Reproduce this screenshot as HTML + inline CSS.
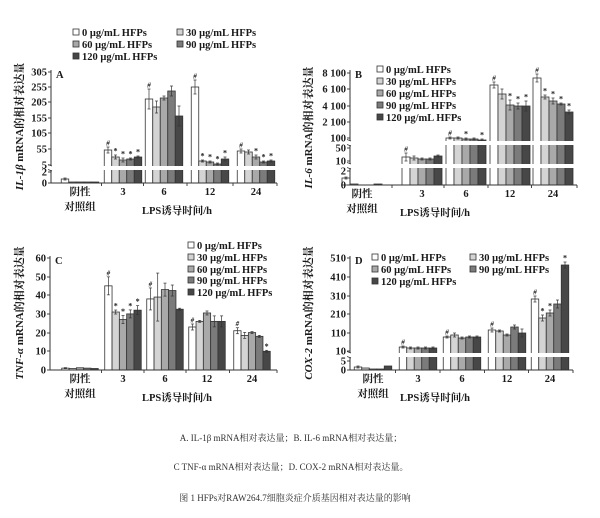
<!DOCTYPE html>
<html><head><meta charset="utf-8"><style>
html,body{margin:0;padding:0;background:#fff;}
svg text{font-family:"Liberation Serif","Noto Serif CJK SC",serif;fill:#1a1a1a;}
svg text.p{font-weight:bold;}
.cap{font-family:"Liberation Serif","Noto Serif CJK SC",serif;font-size:9px;fill:#333;}
</style></head><body>
<svg id="s" width="600" height="513" xmlns="http://www.w3.org/2000/svg">
<text class="cap" x="291" y="441" text-anchor="middle">A. IL-1β mRNA相对表达量；B. IL-6 mRNA相对表达量；</text>
<text class="cap" x="291" y="470" text-anchor="middle">C TNF-α mRNA相对表达量；D. COX-2 mRNA相对表达量。</text>
<text class="cap" x="295" y="501" text-anchor="middle">图 1 HFPs对RAW264.7细胞炎症介质基因相对表达量的影响</text>
</svg>
<script>
var S=document.getElementById('s'),NS='http://www.w3.org/2000/svg';
function el(t,a,txt){var e=document.createElementNS(NS,t);for(var k in a)e.setAttribute(k,a[k]);if(t=='text')e.setAttribute('class','p');if(txt!==undefined)e.textContent=txt;S.appendChild(e);return e;}
var C=['#fff','#d4d4d4','#a9a9a9','#7b7b7b','#474747'];
var L=['0 μg/mL HFPs','30 μg/mL HFPs','60 μg/mL HFPs','90 μg/mL HFPs','120 μg/mL HFPs'];
function panel(o){
  var w=o.w;
  for(var g=0;g<5;g++){for(var i=0;i<5;i++){
    var x=o.cx[g]-2.5*w+i*w,t=o.tops[g][i],e=(o.errs&&o.errs[g])?o.errs[g][i]:1.5;
    el('rect',{x:x,y:t,width:w,height:o.base-t,fill:C[i],stroke:'#333','stroke-width':0.8});
    if(g>0||i==0){var mx=x+w/2;el('line',{x1:mx,y1:t-e,x2:mx,y2:t+e,stroke:'#333','stroke-width':0.7});
    el('line',{x1:mx-1.5,y1:t-e,x2:mx+1.5,y2:t-e,stroke:'#333','stroke-width':0.7});
    el('line',{x1:mx-1.5,y1:t+e,x2:mx+1.5,y2:t+e,stroke:'#333','stroke-width':0.7});}
    var m=o.marks[g]?o.marks[g][i]:'';
    if(m&&m!=' '){el('text',{x:x+w/2,y:t-e-1.5,'font-size':m=='#'?7:8,'text-anchor':'middle','font-style':m=='#'?'italic':'normal'},m);}
  }}
  o.breaks.forEach(function(b){el('rect',{x:o.ax-4,y:b-2,width:o.xend-o.ax+6,height:4,fill:'#fff'});});
  el('line',{x1:o.ax,y1:o.top,x2:o.ax,y2:o.base,stroke:'#333','stroke-width':1});
  el('line',{x1:o.ax,y1:o.base,x2:o.xend,y2:o.base,stroke:'#333','stroke-width':1});
  o.breaks.forEach(function(b){el('rect',{x:o.ax-4,y:b-2,width:o.xend-o.ax+6,height:4,fill:'#fff'});
    el('path',{d:'M'+(o.ax-3)+' '+(b-3.5)+' l4 1.5 M'+(o.ax-3)+' '+(b+1.5)+' l4 1.5',stroke:'#333','stroke-width':0.7,fill:'none'});});
  o.ticks.forEach(function(t){el('line',{x1:o.ax-3,y1:t[1],x2:o.ax,y2:t[1],stroke:'#333','stroke-width':0.9});
    el('text',{x:o.ax-4,y:t[1]+3.5,'font-size':10.5,'text-anchor':'end'},t[0]);});
  for(var g=1;g<5;g++){var bx=(o.cx[g]+o.cx[g-1])/2;el('line',{x1:bx,y1:o.base,x2:bx,y2:o.base+3,stroke:'#333','stroke-width':0.9});}
  el('line',{x1:o.xend,y1:o.base,x2:o.xend,y2:o.base+3,stroke:'#333','stroke-width':0.9});
  var lab=['阴性','3','6','12','24'];
  for(var g=0;g<5;g++)el('text',{x:o.cx[g],y:o.base+12,'font-size':10.5,'text-anchor':'middle'},lab[g]);
  el('text',{x:o.cx[0],y:o.base+27,'font-size':10.5,'text-anchor':'middle'},'对照组');
  el('text',{x:o.lx,y:o.base+31,'font-size':10.5,'text-anchor':'middle'},'LPS诱导时间/h');
  el('text',{x:o.ax+5,y:o.top+8,'font-size':10.5},o.letter);
  var yc=(o.top+o.base)/2,tx=el('text',{x:0,y:0,'font-size':11,'text-anchor':'middle',transform:'translate('+o.ylx+','+yc+') rotate(-90)'});
  var a=document.createElementNS(NS,'tspan');a.setAttribute('font-style','italic');a.textContent=o.yi;tx.appendChild(a);
  var b=document.createElementNS(NS,'tspan');b.textContent=' mRNA的相对表达量';tx.appendChild(b);
  o.leg.forEach(function(p,i){el('rect',{x:p[0],y:p[1]-7,width:6,height:6,fill:C[i],stroke:'#333','stroke-width':0.8});
    el('text',{x:p[0]+9,y:p[1],'font-size':10.5},L[i]);});
}
function vy(base,sc,v){return base-v*sc;}
panel({ax:51,base:183,top:70,xend:277,w:7.5,cx:[80,123,164,210,256],
 tops:[[179,182,182,182,182],[150,157,160,159,157],[99,107,98,91,116],[87,161,162,164,159],[151,152,157,162,161]],
 errs:[[1,1,1,1,1],[3,2,2,1,1],[10,6,2,5,10],[7,1,1,1,2],[2,2,2,1,1]],
 marks:[[],['#','*','*','*','*'],['#','','','',''],['#','*','*','*','*'],['#','','*','*','*']],
 breaks:[168],ticks:[['305',72],['255',87],['205',102],['155',118],['105',133],['55',149],['5',165],['2',172],['0',183]],
 letter:'A',yi:'IL-1β',ylx:23,lx:177,leg:[[73,36],[177,36],[73,48],[177,48],[73,60]]});
panel({ax:350,base:185,top:70,xend:577,w:8,cx:[362,422,466,510,553],
 tops:[[178,184,185,185,184],[157,158,159,159,156],[138,138,139,139,140],[85,94,105,106,106],[78,97,101,104,112]],
 errs:[[1,1,1,1,1],[4,2,1,1,1],[1,1,1,1,1],[3,5,5,3,5],[4,2,3,1,2]],
 marks:[[],['#','','','',''],['#','','*','','*'],['#','','*','*','*'],['#','*','*','*','*']],
 breaks:[143,166],ticks:[['8 100',73],['6 100',89],['4 100',106],['2 100',122],['100',138],['50',148],['10',161],['2',171],['0',185]],
 letter:'B',yi:'IL-6',ylx:312,lx:435,leg:[[377,73],[377,85],[377,97],[377,109],[377,121]]});
var sc=1.87,bC=370;
function tc(a){return a.map(function(v){return vy(bC,sc,v);});}
panel({ax:50,base:370,top:256,xend:277,w:7.3,cx:[80,123,165,207,252],
 tops:[tc([1,0.8,1.2,1,0.8]),tc([45,31,27,30,32]),tc([38,39,43,42.5,32.5]),tc([23,26,30.5,26,26]),tc([21,18.5,20,18,10])],
 errs:[[0.5,0.5,0.5,0.5,0.5],[9,2,4,4,4.5],[11,24,6.5,5.5,1],[3,1,2,5.5,5.5],[3,3,1,1,1]],
 marks:[[],['#','*','*','*','*'],['#','','','',''],['#','','','',''],['#','','','','*']],
 breaks:[],ticks:[['60',258],['50',277],['40',295],['30',314],['20',333],['10',351],['0',370]],
 letter:'C',yi:'TNF-α',ylx:23,lx:177,leg:[[188,249],[188,261],[188,273],[188,284],[188,296]]});
panel({ax:350,base:370,top:256,xend:573,w:7.5,cx:[373,418,462,507,550],
 tops:[[367,368,369,369,366],[347,348,348,348,348],[337,335,338,337,337],[330,331,335,327,333],[299,318,313,304,265]],
 errs:[[1,1,1,1,1],[1,1,1,1,1],[1,2,1,1,1],[2,1,1,2,4],[3,3,3,4,3]],
 marks:[[],['#','','','',''],['#','','','',''],['#','','','',''],['#','*','*','','*']],
 breaks:[355],ticks:[['510',258],['410',277],['310',296],['210',314],['110',333],['10',351],['5',361],['0',370]],
 letter:'D',yi:'COX-2',ylx:312,lx:435,leg:[[372,261],[470,261],[372,273],[470,273],[372,285]]});
</script>
</body></html>
